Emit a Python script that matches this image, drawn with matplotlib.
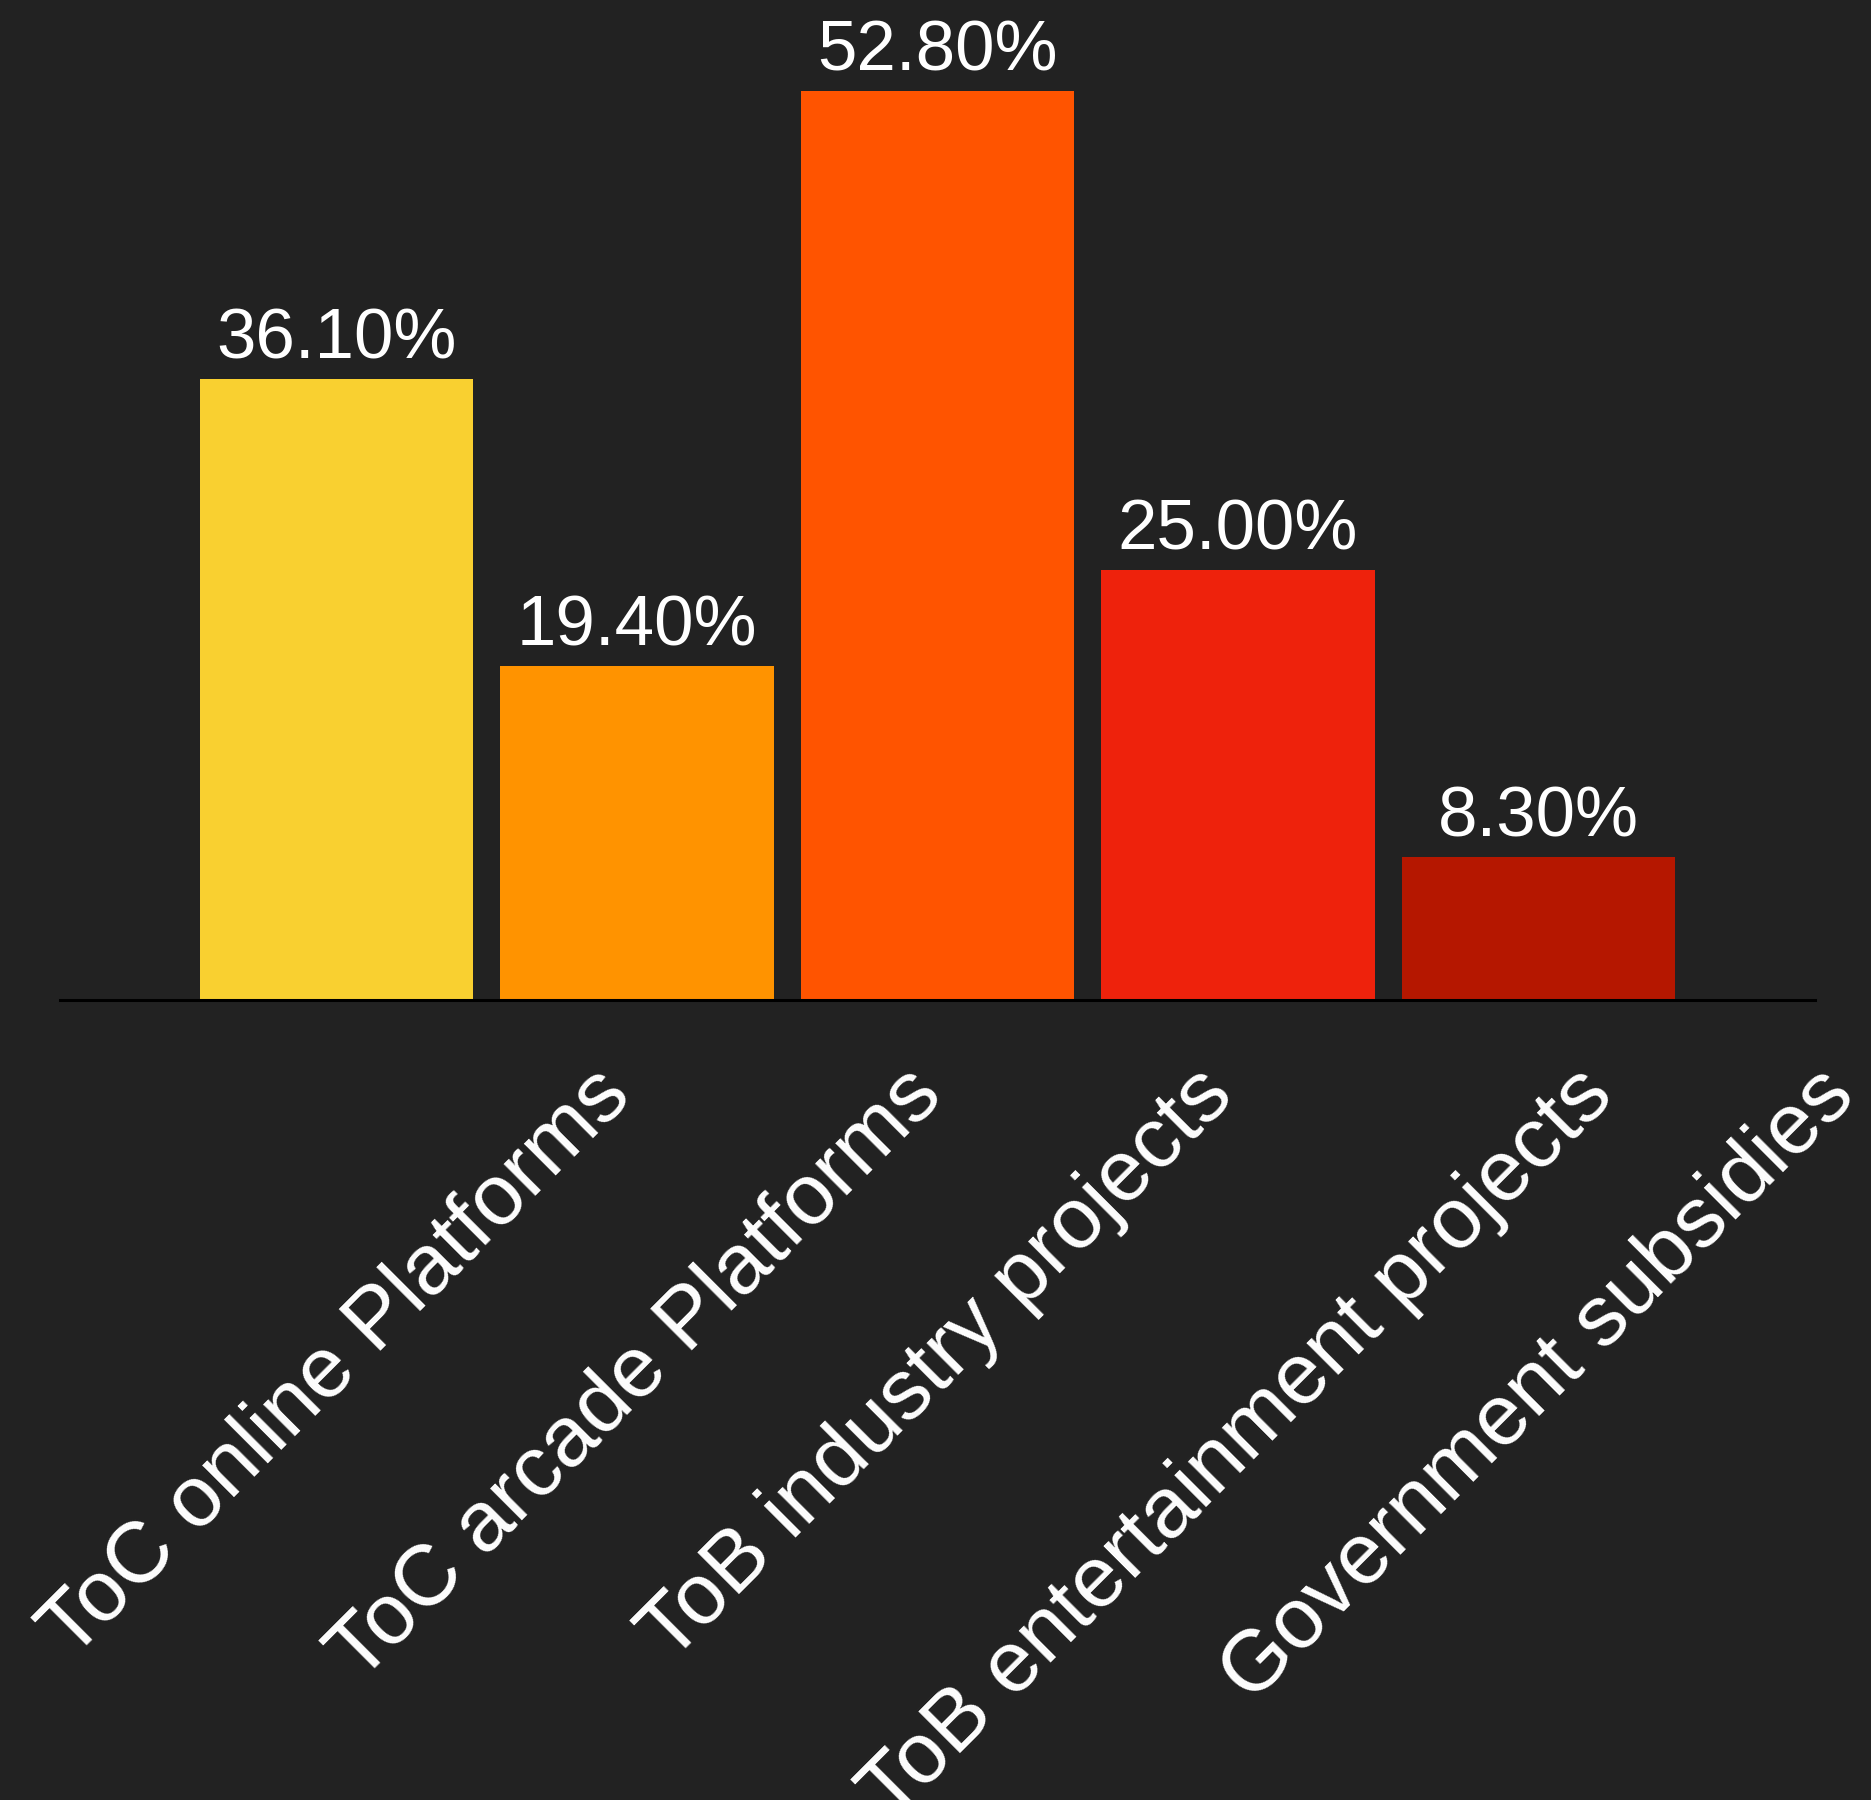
import matplotlib
matplotlib.use('Agg')
import matplotlib.pyplot as plt
import numpy as np

plt.rcParams['font.family'] = ['Liberation Sans', 'DejaVu Sans']

categories = ['ToC online Platforms', 'ToC arcade Platforms', 'ToB industry projects',
              'ToB entertainment projects', 'Government subsidies']
shares = [36.1, 19.4, 52.8, 25.0, 8.3]
colors = ['#F9D030', '#FF9300', '#FF5400', '#EE220C', '#B51700']

BG = '#222222'

fig = plt.figure(figsize=(18.71, 18.0), dpi=100, facecolor=BG)
ax = fig.add_axes([60 / 1871, 800 / 1800, 1755 / 1871, 998 / 1800])
ax.set_facecolor(BG)

xs = np.arange(len(categories))
bars = ax.bar(xs, shares, width=0.91, color=colors)
ax.bar_label(bars, labels=[f'{v:.2f}%' for v in shares], padding=4,
             color='white', fontsize=51)

ax.set_xlim(-0.92, 4.92)
ax.set_ylim(0, 58)
ax.set_xticks(xs)
ax.set_xticklabels(categories, rotation=45, fontsize=62, color='white')
ax.tick_params(axis='x', length=0, pad=39)
ax.set_yticks([])
for side in ['top', 'left', 'right']:
    ax.spines[side].set_visible(False)
ax.spines['bottom'].set_color('black')
ax.spines['bottom'].set_linewidth(2.2)

fig.savefig('out.png', dpi=100, facecolor=BG)
